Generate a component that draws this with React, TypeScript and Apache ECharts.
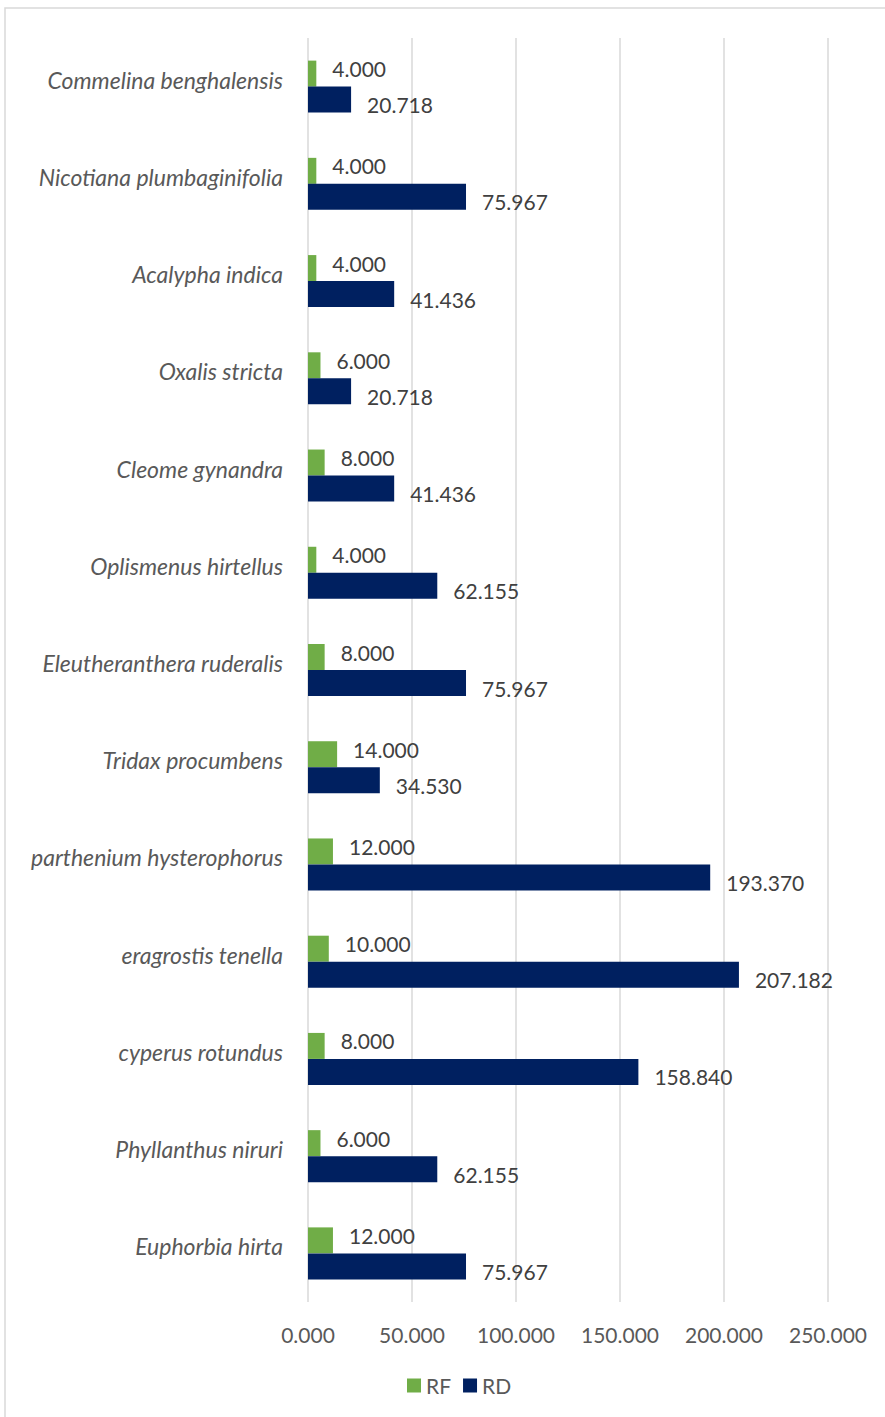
import React, { useEffect, useRef } from "react";
import * as echarts from "echarts";

const categories = [
  "Euphorbia hirta",
  "Phyllanthus niruri",
  "cyperus rotundus",
  "eragrostis tenella",
  "parthenium hysterophorus",
  "Tridax procumbens",
  "Eleutheranthera ruderalis",
  "Oplismenus hirtellus",
  "Cleome gynandra",
  "Oxalis stricta",
  "Acalypha indica",
  "Nicotiana plumbaginifolia",
  "Commelina benghalensis",
];
const rfValues = [12, 6, 8, 10, 12, 14, 8, 4, 8, 6, 4, 4, 4];
const rdValues = [75.967, 62.155, 158.84, 207.182, 193.37, 34.53, 75.967, 62.155, 41.436, 20.718, 41.436, 75.967, 20.718];
const seriesNames = ["RF", "RD"];
const axisMin = 0;
const axisMax = 250;
const axisStep = 50;

const FONT = "Lato, 'Open Sans', sans-serif";

export default function App() {
  const ref = useRef<HTMLDivElement>(null);
  useEffect(() => {
    if (!ref.current) return;
    const chart = echarts.init(ref.current, undefined, { renderer: "svg" });
    const labelStyle = (dy: number) => ({
      show: true,
      position: "right" as const,
      distance: 16,
      offset: [0, dy],
      color: "#404040",
      fontFamily: FONT,
      fontSize: 21,
      formatter: (p: any) => Number(p.value).toFixed(3),
    });
    chart.setOption({
      animation: false,
      backgroundColor: "#ffffff",
      textStyle: { fontFamily: FONT },
      graphic: [
        {
          type: "rect",
          shape: { x: 5, y: 8, width: 1000, height: 1600 },
          style: { fill: "none", stroke: "#d9d9d9", lineWidth: 1.5 },
          silent: true,
          z: -1,
        },
      ],
      legend: {
        data: seriesNames,
        bottom: 16,
        left: 402,
        itemWidth: 14,
        itemHeight: 14,
        itemGap: 12,
        icon: "rect",
        textStyle: { color: "#595959", fontSize: 21, fontFamily: FONT },
      },
      grid: { left: 308, right: 57, top: 38, bottom: 115, containLabel: false },
      xAxis: {
        type: "value",
        min: axisMin,
        max: axisMax,
        interval: axisStep,
        axisLine: { show: false },
        axisTick: { show: false },
        splitLine: { show: true, lineStyle: { color: "#d9d9d9", width: 1.5 } },
        axisLabel: {
          color: "#595959",
          fontSize: 21,
          fontFamily: FONT,
          margin: 22,
          formatter: (v: number) => v.toFixed(3),
        },
      },
      yAxis: {
        type: "category",
        data: categories,
        axisLine: { show: false },
        axisTick: { show: false },
        axisLabel: {
          color: "#595959",
          fontSize: 23,
          fontStyle: "italic",
          fontFamily: FONT,
          margin: 25,
          verticalAlign: "bottom",
          lineHeight: 14,
        },
      },
      series: [
        {
          name: seriesNames[0],
          type: "bar",
          data: rfValues,
          barWidth: 26,
          barGap: "0%",
          itemStyle: { color: "#70AD47" },
          label: labelStyle(-5),
        },
        {
          name: seriesNames[1],
          type: "bar",
          data: rdValues,
          barWidth: 26,
          barGap: "0%",
          itemStyle: { color: "#002060" },
          label: labelStyle(5),
        },
      ],
    });
    return () => chart.dispose();
  }, []);
  return (
    <div
      ref={ref}
      style={{ position: "absolute", left: 0, top: 0, width: 885, height: 1417 }}
    />
  );
}
